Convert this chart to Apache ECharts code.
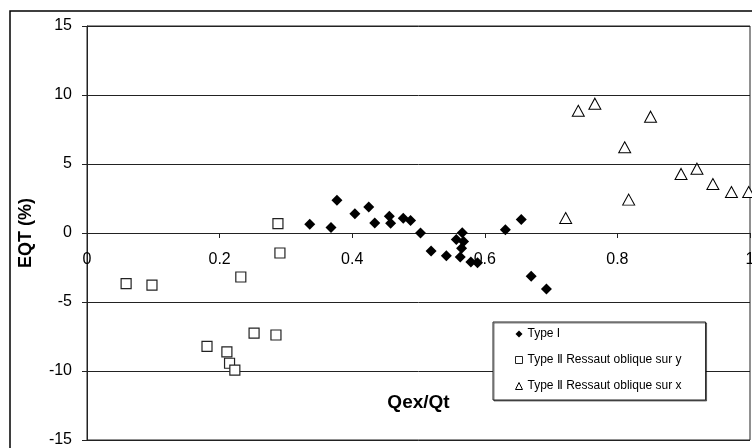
<!DOCTYPE html>
<html><head><meta charset="utf-8">
<script src="https://cdn.jsdelivr.net/npm/echarts@6/dist/echarts.min.js"></script>
<style>html,body{margin:0;padding:0;background:#fff}#c{width:752px;height:448px}</style>
</head><body><div id="c"></div>
<script>
var seriesNames = ['Type I', 'Type Ⅱ Ressaut oblique sur y', 'Type Ⅱ Ressaut oblique sur x'];
var xTicks = [0, 0.2, 0.4, 0.6, 0.8, 1];
var yTicks = [-15, -10, -5, 0, 5, 10, 15];

var typeI_x = [0.336, 0.368, 0.377, 0.404, 0.425, 0.434, 0.456, 0.458, 0.477, 0.488, 0.503, 0.519, 0.542, 0.557, 0.566, 0.568, 0.565, 0.563, 0.579, 0.589, 0.631, 0.655, 0.670, 0.693];
var typeI_y = [0.63, 0.39, 2.37, 1.40, 1.88, 0.72, 1.22, 0.70, 1.06, 0.90, 0.00, -1.30, -1.64, -0.48, 0.02, -0.62, -1.10, -1.74, -2.10, -2.16, 0.24, 0.97, -3.14, -4.06];

var typeIIy_x = [0.059, 0.098, 0.232, 0.288, 0.291, 0.181, 0.211, 0.215, 0.223, 0.252, 0.285];
var typeIIy_y = [-3.67, -3.77, -3.19, 0.68, -1.45, -8.21, -8.62, -9.44, -9.93, -7.25, -7.39];

var typeIIx_x = [0.722, 0.741, 0.766, 0.850, 0.811, 0.817, 0.896, 0.920, 0.944, 0.972, 0.998];
var typeIIx_y = [1.09, 8.86, 9.37, 8.43, 6.21, 2.42, 4.28, 4.66, 3.55, 2.97, 2.97];

function pairs(xs, ys){ return xs.map(function(x,i){ return [x, ys[i]]; }); }

var FONT = 'Liberation Sans, Arial, sans-serif';
var chart = echarts.init(document.getElementById('c'), null, {renderer:'canvas'});
chart.setOption({
  animation: false,
  backgroundColor: '#fff',
  graphic: [{
    type: 'rect', shape: {x: 10, y: 11, width: 800, height: 500},
    style: {fill: 'none', stroke: '#000', lineWidth: 1.5}, z: -1
  }],
  grid: {left: 87, top: 26, right: 2, bottom: 8, containLabel: false, outerBoundsMode: 'none',
    show: true, borderColor: '#222', borderWidth: 1, backgroundColor: '#fff'},
  xAxis: {
    type: 'value', min: xTicks[0], max: xTicks[xTicks.length-1], interval: 0.2,
    offset: -207,
    name: 'Qex/Qt', nameLocation: 'middle', nameGap: 160,
    nameTextStyle: {fontFamily: FONT, fontWeight: 'bold', fontSize: 19, color: '#000'},
    axisLine: {onZero: false, lineStyle: {color: '#222', width: 1}},
    axisTick: {show: true, inside: false, length: 5, lineStyle: {color: '#222'}},
    axisLabel: {margin: 19, fontFamily: FONT, fontSize: 16, color: '#000',
      formatter: function(v){ return String(+v.toFixed(1)); }},
    splitLine: {show: false}
  },
  yAxis: {
    type: 'value', min: yTicks[0], max: yTicks[yTicks.length-1], interval: 5,
    name: 'EQT (%)', nameLocation: 'middle', nameGap: 52, nameRotate: 90,
    nameTextStyle: {fontFamily: FONT, fontWeight: 'bold', fontSize: 18, color: '#000'},
    axisLine: {onZero: false, lineStyle: {color: '#222', width: 1}},
    axisTick: {show: true, inside: false, length: 5, lineStyle: {color: '#222'}},
    axisLabel: {margin: 15, fontFamily: FONT, fontSize: 16, color: '#000'},
    splitLine: {show: true, lineStyle: {color: '#222', width: 1}}
  },
  legend: {
    orient: 'vertical', left: 493, top: 322,
    data: seriesNames,
    backgroundColor: '#fff', borderColor: '#222', borderWidth: 1,
    shadowColor: 'rgba(0,0,0,0.5)', shadowOffsetX: 1, shadowOffsetY: 1, shadowBlur: 0,
    padding: [6, 24, 8, 22], itemGap: 14, itemWidth: 7, itemHeight: 7,
    itemStyle: {borderWidth: 1},
    textStyle: {fontFamily: FONT, fontSize: 12, color: '#000'}
  },
  series: [
    {name: seriesNames[0], type: 'scatter', symbol: 'diamond', symbolSize: 11,
      itemStyle: {color: '#000', opacity: 1}, data: pairs(typeI_x, typeI_y), z: 3},
    {name: seriesNames[1], type: 'scatter', symbol: 'rect', symbolSize: 10,
      itemStyle: {color: '#fff', borderColor: '#222', borderWidth: 1.2, opacity: 1}, data: pairs(typeIIy_x, typeIIy_y), z: 2},
    {name: seriesNames[2], type: 'scatter', symbol: 'triangle', symbolSize: [12, 11],
      itemStyle: {color: '#fff', borderColor: '#000', borderWidth: 1, opacity: 1}, data: pairs(typeIIx_x, typeIIx_y), z: 2}
  ]
});
</script></body></html>
